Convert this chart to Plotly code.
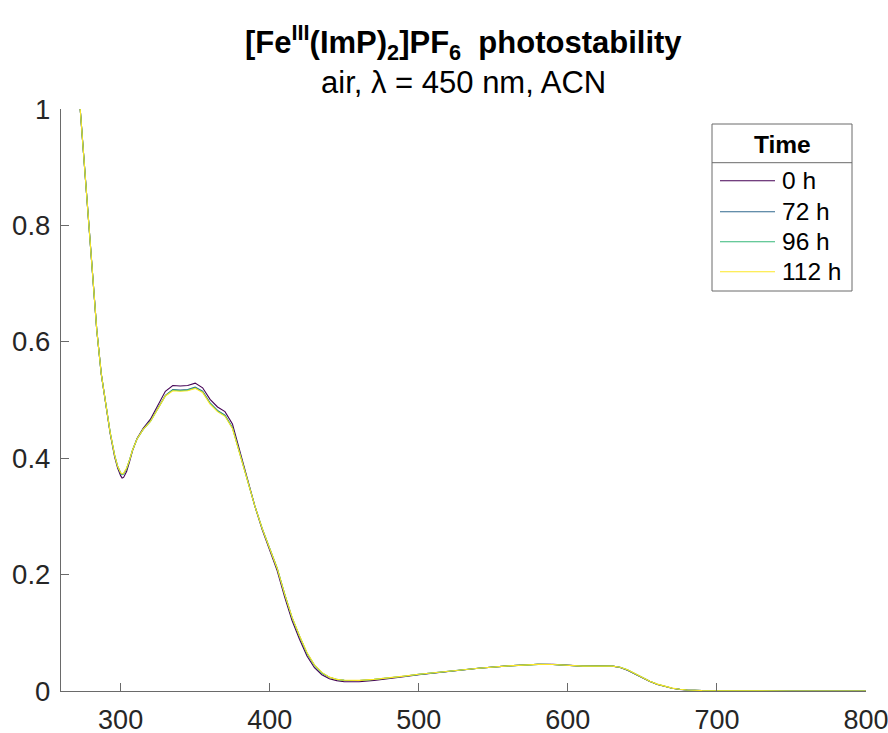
import plotly.graph_objects as go

# Wavelength grid (nm)
wavelength = [272, 275, 278, 281, 284, 287, 290, 293, 296, 298,
              300, 301, 302, 304, 306, 308, 311, 315, 320, 325,
              330, 335, 340, 345, 350, 355, 360, 365, 370, 375,
              380, 385, 390, 395, 400, 405, 410, 415, 420, 425,
              430, 435, 440, 445, 450, 455, 460, 470, 480, 490,
              500, 520, 540, 560, 580, 590, 600, 610, 620, 630,
              635, 640, 645, 650, 655, 660, 665, 670, 675, 680,
              690, 700, 720, 750, 800]

# Absorbance after each irradiation time
abs_0h = [1.030, 0.928, 0.818, 0.720, 0.620, 0.545, 0.490, 0.442, 0.402, 0.383,
          0.370, 0.366, 0.367, 0.377, 0.394, 0.413, 0.434, 0.451, 0.467, 0.490,
          0.515, 0.525, 0.524, 0.525, 0.529, 0.521, 0.501, 0.488, 0.480, 0.459,
          0.412, 0.365, 0.318, 0.277, 0.243, 0.207, 0.162, 0.121, 0.089, 0.060,
          0.040, 0.028, 0.0210, 0.0178, 0.0160, 0.0156, 0.0160, 0.0182, 0.0210, 0.0245,
          0.0280, 0.0340, 0.0390, 0.0432, 0.0460, 0.0458, 0.0442, 0.0428, 0.0432, 0.0428,
          0.0405, 0.0358, 0.0292, 0.0222, 0.0162, 0.0113, 0.0074, 0.0046, 0.0028, 0.0016,
          0.0006, 0.0003, 0.0002, 0.0001, 0.0000]

abs_72h = [1.030, 0.928, 0.818, 0.720, 0.620, 0.545, 0.491, 0.444, 0.405, 0.386,
           0.374, 0.372, 0.373, 0.382, 0.397, 0.414, 0.433, 0.449, 0.464, 0.485,
           0.508, 0.518, 0.517, 0.518, 0.522, 0.515, 0.495, 0.482, 0.474, 0.453,
           0.408, 0.363, 0.318, 0.279, 0.246, 0.211, 0.167, 0.126, 0.094, 0.065,
           0.044, 0.031, 0.0235, 0.0198, 0.0182, 0.0178, 0.0180, 0.0198, 0.0222, 0.0253,
           0.0285, 0.0342, 0.0391, 0.0432, 0.0458, 0.0456, 0.0441, 0.0428, 0.0431, 0.0428,
           0.0407, 0.0362, 0.0297, 0.0227, 0.0166, 0.0116, 0.0076, 0.0047, 0.0029, 0.0017,
           0.0007, 0.0004, 0.0002, 0.0001, 0.0001]

abs_96h = [1.030, 0.928, 0.818, 0.720, 0.620, 0.545, 0.491, 0.444, 0.405, 0.386,
           0.375, 0.372, 0.373, 0.382, 0.397, 0.414, 0.433, 0.449, 0.463, 0.484,
           0.507, 0.517, 0.516, 0.517, 0.521, 0.514, 0.494, 0.481, 0.473, 0.452,
           0.408, 0.363, 0.318, 0.279, 0.246, 0.211, 0.167, 0.126, 0.094, 0.065,
           0.044, 0.031, 0.0236, 0.0199, 0.0183, 0.0179, 0.0181, 0.0199, 0.0223, 0.0254,
           0.0286, 0.0343, 0.0391, 0.0431, 0.0457, 0.0455, 0.0440, 0.0427, 0.0430, 0.0427,
           0.0407, 0.0363, 0.0298, 0.0228, 0.0167, 0.0117, 0.0077, 0.0048, 0.0030, 0.0018,
           0.0008, 0.0004, 0.0002, 0.0001, 0.0001]

abs_112h = [1.030, 0.928, 0.818, 0.720, 0.620, 0.545, 0.491, 0.444, 0.405, 0.386,
            0.375, 0.373, 0.374, 0.383, 0.397, 0.414, 0.433, 0.449, 0.463, 0.484,
            0.507, 0.516, 0.515, 0.516, 0.520, 0.513, 0.493, 0.480, 0.472, 0.451,
            0.407, 0.363, 0.318, 0.279, 0.246, 0.211, 0.167, 0.127, 0.095, 0.066,
            0.045, 0.032, 0.0238, 0.0200, 0.0184, 0.0180, 0.0182, 0.0200, 0.0224, 0.0255,
            0.0287, 0.0343, 0.0391, 0.0431, 0.0457, 0.0455, 0.0440, 0.0427, 0.0430, 0.0427,
            0.0408, 0.0364, 0.0299, 0.0229, 0.0168, 0.0118, 0.0078, 0.0049, 0.0030, 0.0018,
            0.0008, 0.0004, 0.0002, 0.0001, 0.0001]

series_labels = ["0 h", "72 h", "96 h", "112 h"]
series_values = [abs_0h, abs_72h, abs_96h, abs_112h]
series_colors = ["#440154", "#31688E", "#35B779", "#FDE725"]

x_ticks = [300, 400, 500, 600, 700, 800]
y_ticks = [0, 0.2, 0.4, 0.6, 0.8, 1]
y_tick_text = ["0", "0.2", "0.4", "0.6", "0.8", "1"]

FONT = "Liberation Sans, Arial, sans-serif"
TEXT = "#262626"
AXIS = "#6a6a6a"

fig = go.Figure()
for label, vals, col in zip(series_labels, series_values, series_colors):
    fig.add_trace(go.Scatter(x=wavelength, y=vals, mode="lines", name=label,
                             line=dict(color=col, width=1.1), showlegend=False))

W, H = 888, 733
L, R, T, B = 61, 22, 109, 42
pw, ph = W - L - R, H - T - B


def px(xp):
    return (xp - L) / pw


def py(yp):
    return (H - B - yp) / ph


fig.update_layout(
    width=W, height=H,
    margin=dict(l=L, r=R, t=T, b=B, pad=0, autoexpand=False),
    paper_bgcolor="white", plot_bgcolor="white",
    font=dict(family=FONT, color=TEXT, size=27),
    xaxis=dict(range=[260, 800], tickvals=x_ticks, ticks="inside", ticklen=8,
               tickwidth=1.3, tickcolor=AXIS, showline=True, linecolor=AXIS,
               linewidth=1.3, showgrid=False, zeroline=False, automargin=False,
               ticklabeloverflow="allow",
               tickfont=dict(size=27, color=TEXT), ticklabelstandoff=4),
    yaxis=dict(range=[0, 1], tickvals=y_ticks, ticktext=y_tick_text,
               ticks="inside", ticklen=8, tickwidth=1.3, tickcolor=AXIS,
               showline=True, linecolor=AXIS, linewidth=1.3, showgrid=False,
               zeroline=False, automargin=False, ticklabeloverflow="allow",
               tickfont=dict(size=27.5, color=TEXT), ticklabelstandoff=4),
)

cx = px((L + W - R) / 2)
fig.add_annotation(text="<b>[Fe<sup>III</sup>(ImP)<sub>2</sub>]PF<sub>6</sub> &nbsp;photostability</b>",
                   xref="paper", yref="paper", x=cx, y=py(43), xanchor="center",
                   yanchor="middle", showarrow=False, font=dict(size=31, color="black"))
fig.add_annotation(text="air, λ = 450 nm, ACN", xref="paper", yref="paper",
                   x=cx, y=py(83), xanchor="center", yanchor="middle",
                   showarrow=False, font=dict(size=31, color="black"))

# Legend box drawn in paper coordinates
lx0, lx1, ly0, ly1 = 712, 852, 124, 291
fig.add_shape(type="rect", xref="paper", yref="paper", x0=px(lx0), x1=px(lx1),
              y0=py(ly1), y1=py(ly0), line=dict(color=AXIS, width=1),
              fillcolor="white", layer="above")
fig.add_shape(type="line", xref="paper", yref="paper", x0=px(lx0), x1=px(lx1),
              y0=py(162.7), y1=py(162.7), line=dict(color=AXIS, width=1), layer="above")
fig.add_annotation(text="<b>Time</b>", xref="paper", yref="paper",
                   x=px((lx0 + lx1) / 2), y=py(144), xanchor="center", yanchor="middle",
                   showarrow=False, font=dict(size=24.5, color="black"))
row_y = [180.7, 211.7, 241.7, 271.7]
for label, col, ry in zip(series_labels, series_colors, row_y):
    fig.add_shape(type="line", xref="paper", yref="paper", x0=px(720), x1=px(775),
                  y0=py(ry), y1=py(ry), line=dict(color=col, width=1.1), layer="above")
    fig.add_annotation(text=label, xref="paper", yref="paper", x=px(780), y=py(ry),
                       xanchor="left", yanchor="middle", showarrow=False,
                       font=dict(size=24.5, color="black"))

fig.write_html("out.html")
